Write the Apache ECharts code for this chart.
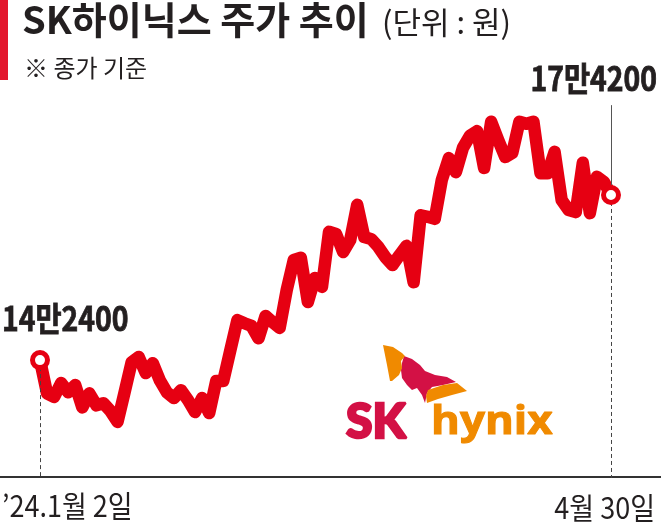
<!DOCTYPE html>
<html>
<head>
<meta charset="utf-8">
<script src="https://cdn.jsdelivr.net/npm/echarts@6/dist/echarts.min.js"></script>
<style>
html,body{margin:0;padding:0;background:#fff;}
#chart{width:661px;height:523px;}
</style>
</head>
<body>
<div id="chart"></div>
<script>
// ---- data ----
var dates = [
  '1/2','1/3','1/4','1/5','1/8','1/9','1/10','1/11','1/12','1/15','1/16','1/17','1/18','1/19','1/22','1/23','1/24','1/25','1/26','1/29','1/30','1/31',
  '2/1','2/2','2/5','2/6','2/7','2/8','2/13','2/14','2/15','2/16','2/19','2/20','2/21','2/22','2/23','2/26','2/27','2/28','2/29',
  '3/4','3/5','3/6','3/7','3/8','3/11','3/12','3/13','3/14','3/15','3/18','3/19','3/20','3/21','3/22','3/25','3/26','3/27','3/28','3/29',
  '4/1','4/2','4/3','4/4','4/5','4/8','4/9','4/11','4/12','4/15','4/16','4/17','4/18','4/19','4/22','4/23','4/24','4/25','4/26','4/29','4/30'
];
var prices = [
  142400,136000,135300,138000,136200,137600,133300,136000,133700,134100,132600,130500,136200,142000,143000,139900,141800,138500,136200,135100,136600,134700,
  132400,135100,132200,138400,138400,144300,150100,149500,149000,146600,150900,149700,148600,155900,161700,162100,153600,158200,156500,
  167100,166700,163200,165500,172300,166100,165700,164200,162200,160700,162600,164400,157400,170300,170000,169600,177100,181300,178600,183300,
  185600,186500,179400,188300,184800,181500,182300,188300,187900,188300,178400,178400,182500,173200,171300,170900,180400,170700,177700,176700,174200
];
var startLabel = "\u201924.1월 2일";
var endLabel = "4월 30일";
var titleText = 'SK하이닉스 주가 추이';
var unitText = '(단위 : 원)';
var noteText = '※ 종가 기준';
var yMin = 119700, yMax = 200000, leaderTop = 191500;

function manWon(v){ return Math.floor(v/10000) + '만' + (v % 10000); }

var RED = '#e60012';
var last = prices.length - 1;
var KR = '"Noto Sans CJK KR", sans-serif';
var INK = '#231f20';

var chart = echarts.init(document.getElementById('chart'), null, {renderer:'canvas'});
chart.setOption({
  animation: false,
  backgroundColor: '#fff',
  grid: {left: 40, right: 50, top: 61, bottom: 45},
  xAxis: {
    type: 'category', data: dates, boundaryGap: false,
    axisLine: {show: false}, axisTick: {show: false}, axisLabel: {show: false}, splitLine: {show: false}
  },
  yAxis: {
    type: 'value', min: yMin, max: yMax, show: false, splitLine: {show: false}
  },
  series: [
    {
      type: 'line', data: prices, symbol: 'none', z: 3,
      lineStyle: {color: RED, width: 12.5, cap: 'round', join: 'round'},
      markLine: {
        silent: true, symbol: 'none', label: {show: false},
        data: [
          [{coord: [dates[0], prices[0]], lineStyle: {type: [4, 3], color: '#444', width: 1}}, {coord: [dates[0], yMin]}],
          [{coord: [dates[last], prices[last]], lineStyle: {type: [4, 3], color: '#444', width: 1}}, {coord: [dates[last], yMin]}],
          [{coord: [dates[last], prices[last]], lineStyle: {type: 'solid', color: '#555', width: 1}}, {coord: [dates[last], leaderTop]}]
        ]
      }
    },
    {
      type: 'scatter', z: 5,
      data: [[dates[0], prices[0]], [dates[last], prices[last]]],
      symbol: 'circle', symbolSize: 15,
      itemStyle: {color: '#fff', borderColor: RED, borderWidth: 5, opacity: 1}
    }
  ],
  graphic: [
    {type: 'rect', shape: {x: 0, y: 0, width: 8, height: 80}, style: {fill: '#e3172d'}},
    {type: 'text', x: 22, y: 20, style: {text: titleText, font: 'bold 38px ' + KR, fill: INK, textVerticalAlign: 'middle'}},
    {type: 'text', x: 382, y: 22, style: {text: unitText, font: '31px ' + KR, fill: INK, textVerticalAlign: 'middle'}},
    {type: 'text', x: 24, y: 68, style: {text: noteText, font: '24px ' + KR, fill: INK, textVerticalAlign: 'middle'}},
    {type: 'text', x: 2, y: 318, scaleX: 0.86, style: {text: manWon(prices[0]), font: 'bold 33px ' + KR, fill: INK, stroke: INK, lineWidth: 0.8, textVerticalAlign: 'middle'}},
    {type: 'text', x: 657, y: 78, scaleX: 0.86, style: {text: manWon(prices[last]), font: 'bold 33px ' + KR, fill: INK, stroke: INK, lineWidth: 0.8, textAlign: 'right', textVerticalAlign: 'middle'}},
    {type: 'line', shape: {x1: 0, y1: 477, x2: 661, y2: 477}, style: {stroke: '#333', lineWidth: 2}},
    {type: 'text', x: 2, y: 506, scaleX: 0.9, style: {text: startLabel, font: '30px ' + KR, fill: INK, textVerticalAlign: 'middle'}},
    {type: 'text', x: 655, y: 508, scaleX: 0.9, style: {text: endLabel, font: '30px ' + KR, fill: INK, textAlign: 'right', textVerticalAlign: 'middle'}},
    // SK hynix logo (decorative)
    {type: 'polygon', shape: {points: [[404,356],[412,359],[420,365],[425,371],[435,375],[447,377],[456,382],[443,385],[432,387],[427,393],[425,403],[422,395],[417,388],[412,390],[407,385],[402,378],[401,370],[402,363]]}, style: {fill: '#d31145'}},
    {type: 'polygon', shape: {points: [[383,345],[393,347],[402,353],[405,356],[401,361],[402,368],[399,375],[392,381],[390,381],[387,365]]}, style: {fill: '#f08a00'}},
    {type: 'polygon', shape: {points: [[428,390],[443,385],[457,383],[467,391],[452,395],[438,399],[427,403],[426,396]]}, style: {fill: '#f08a00'}},
    {type: 'text', x: 346, y: 423, style: {text: 'SK', font: '900 48px Lato, sans-serif', fill: '#d31145', stroke: '#d31145', lineWidth: 2.5, textVerticalAlign: 'middle'}},
    {type: 'text', x: 431, y: 423, scaleX: 1.1, style: {text: 'hynix', font: 'bold 40px "Open Sans", sans-serif', fill: '#f08a00', stroke: '#f08a00', lineWidth: 1, textVerticalAlign: 'middle'}}
  ]
});
</script>
</body>
</html>
